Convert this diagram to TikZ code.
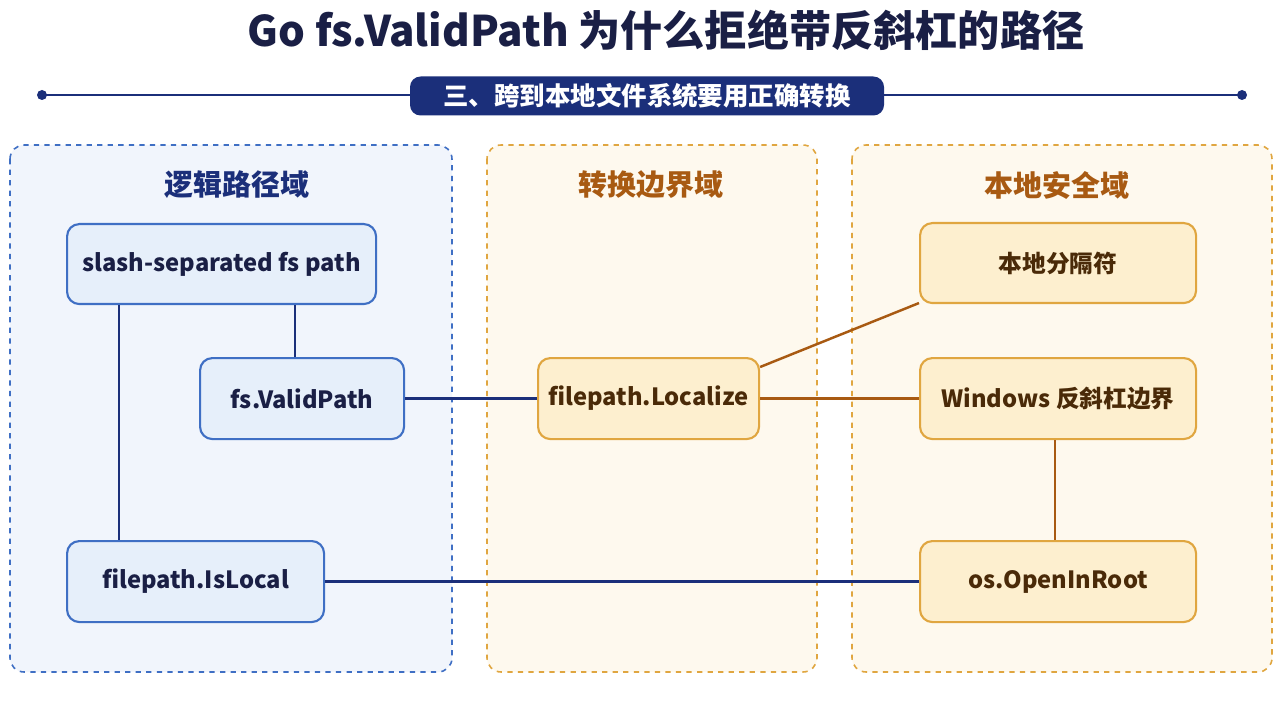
\documentclass[tikz,border=0pt]{standalone}
\usepackage{fontspec}
\setmainfont{Noto Sans CJK SC}
\usetikzlibrary{positioning}
\definecolor{myNavy}{HTML}{1b2f7a}
\definecolor{myBlue}{HTML}{3f6fc4}
\definecolor{myBlueFill}{HTML}{e6effa}
\definecolor{myPanelBlue}{HTML}{f1f5fc}
\definecolor{myOrange}{HTML}{e0a640}
\definecolor{myOrangeFill}{HTML}{fdefcf}
\definecolor{myPanelOrange}{HTML}{fef9ee}
\definecolor{myBrown}{HTML}{a85a12}
\definecolor{myText}{HTML}{1a1f45}
\definecolor{myTextBrown}{HTML}{4a2a08}

\begin{document}
\begin{tikzpicture}[x=0.02cm, y=-0.02cm, line width=1.4pt]
  \tikzstyle{P}=[draw, dashed, rounded corners=8pt, line width=0.9pt]
  \tikzstyle{L}=[rounded corners=7pt, draw=myBlue, fill=myBlueFill, line width=1.2pt, text=myText, font=\fontsize{13.5}{15}\selectfont\bfseries, anchor=north west, inner sep=0pt]
  \tikzstyle{R}=[rounded corners=7pt, draw=myOrange, fill=myOrangeFill, line width=1.2pt, text=myTextBrown, font=\fontsize{13.5}{15}\selectfont\bfseries, anchor=north west, inner sep=0pt]
  \tikzstyle{T}=[font=\fontsize{16.5}{18}\selectfont\bfseries]

  \useasboundingbox[fill=white] (0,0) rectangle (1280,702);

  % title and banner
  \node[text=myText, font=\fontsize{24}{27}\selectfont\bfseries] (title) at (666,30) {Go fs.ValidPath 为什么拒绝带反斜杠的路径};
  \coordinate (left) at (42,95);
  \coordinate (right) at (1242,95);
  \draw[myNavy, line width=1.2pt] (left) -- (right);
  \fill[myNavy] (left) circle (5) (right) circle (5);
  \node[fill=myNavy, text=white, rounded corners=6pt, minimum width=474*0.02cm, minimum height=39*0.02cm, font=\fontsize{14.5}{16}\selectfont\bfseries] (banner) at (647,96) {三、跨到本地文件系统要用正确转换};

  % panels
  \draw[P, draw=myBlue, fill=myPanelBlue] (10,145) rectangle (452,672);
  \draw[P, draw=myOrange, fill=myPanelOrange] (487,145) rectangle (817,672);
  \draw[P, draw=myOrange, fill=myPanelOrange] (852,145) rectangle (1272,672);
  \node[T, text=myNavy] (t1) at (237,185) {逻辑路径域};
  \node[T, text=myBrown] (t2) at (651,185) {转换边界域};
  \node[T, text=myBrown] (t3) at (1057,185) {本地安全域};

  % nodes
  \node[L, minimum width=309*0.02cm, minimum height=80*0.02cm] (slash) at (66,223) {slash-separated fs path};
  \node[L, minimum width=204*0.02cm, minimum height=81*0.02cm] (valid) at (199,357) {fs.ValidPath};
  \node[L, minimum width=257*0.02cm, minimum height=81*0.02cm] (islocal) at (66,540) {filepath.IsLocal};
  \node[R, minimum width=221*0.02cm, minimum height=81*0.02cm] (localize) at (537,357) {filepath.Localize};
  \node[R, minimum width=276*0.02cm, minimum height=80*0.02cm] (sep) at (919,222) {本地分隔符};
  \node[R, minimum width=276*0.02cm, minimum height=81*0.02cm] (win) at (919,357) {Windows 反斜杠边界};
  \node[R, minimum width=276*0.02cm, minimum height=81*0.02cm] (root) at (919,540) {os.OpenInRoot};

  % connectors
  \draw[myNavy] (valid.north -| 295,0) -- (slash.south -| 295,0);
  \draw[myNavy] (slash.south -| 119,0) -- (islocal.north -| 119,0);
  \draw[myNavy] (valid) -- (localize);
  \draw[myNavy] (islocal) -- (root);
  \draw[myBrown] (localize.north east) ++(0,10) -- ([yshift=-0.8cm]sep.west);
  \draw[myBrown] (localize) -- (win);
  \draw[myBrown] (win.south -| 1055,0) -- (root.north -| 1055,0);
\end{tikzpicture}
\end{document}
